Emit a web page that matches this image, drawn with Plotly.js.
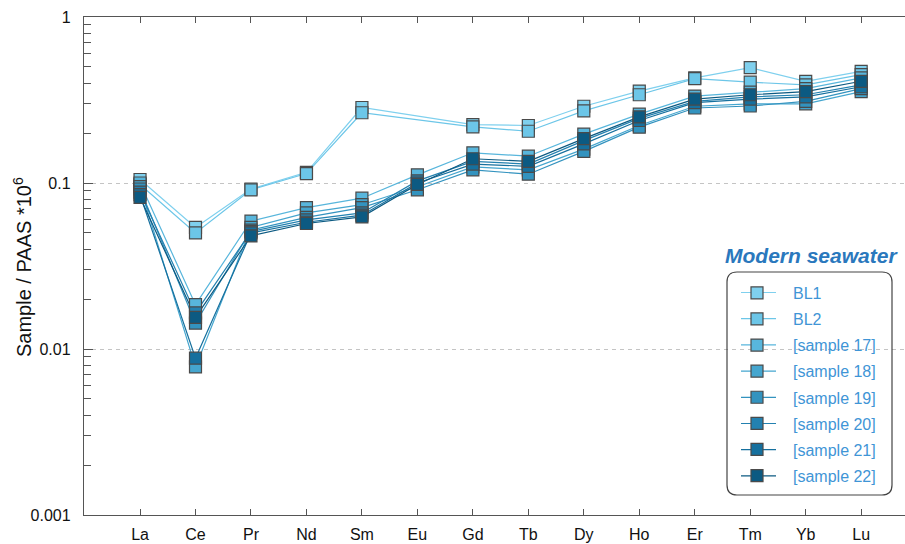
<!DOCTYPE html>
<html>
<head>
<meta charset="utf-8">
<script src="https://cdn.plot.ly/plotly-3.0.1.min.js"></script>
<style>html,body{margin:0;padding:0;background:#fff;}#chart{width:905px;height:544px;}</style>
</head>
<body>
<div id="chart"></div>
<script>
const elements = ["La","Ce","Pr","Nd","Sm","Eu","Gd","Tb","Dy","Ho","Er","Tm","Yb","Lu"];

const seriesNames = ["BL1","BL2","[sample 17]","[sample 18]","[sample 19]","[sample 20]","[sample 21]","[sample 22]"];

const bl1 = [0.105, 0.054, 0.092, 0.116, 0.285, null, 0.225, 0.222, 0.290, 0.358, 0.430, 0.495, 0.410, 0.470];
const bl2 = [0.098, 0.050, 0.091, 0.114, 0.265, null, 0.218, 0.205, 0.272, 0.340, 0.425, 0.405, 0.390, 0.450];
const s17 = [0.100, 0.0185, 0.059, 0.071, 0.081, 0.112, 0.152, 0.145, 0.197, 0.260, 0.334, 0.353, 0.370, 0.430];
const s18 = [0.095, 0.0078, 0.054, 0.066, 0.074, 0.095, 0.125, 0.120, 0.160, 0.222, 0.290, 0.300, 0.300, 0.355];
const s19 = [0.092, 0.0143, 0.052, 0.062, 0.071, 0.091, 0.120, 0.113, 0.155, 0.217, 0.283, 0.291, 0.310, 0.370];
const s20 = [0.088, 0.0165, 0.051, 0.060, 0.066, 0.103, 0.135, 0.130, 0.180, 0.245, 0.310, 0.330, 0.340, 0.390];
const s21 = [0.085, 0.0088, 0.050, 0.058, 0.064, 0.100, 0.130, 0.126, 0.172, 0.238, 0.305, 0.320, 0.330, 0.380];
const s22 = [0.082, 0.0155, 0.048, 0.057, 0.0625, 0.098, 0.140, 0.135, 0.185, 0.250, 0.320, 0.340, 0.355, 0.410];

const seriesValues = [bl1, bl2, s17, s18, s19, s20, s21, s22];
const seriesColors = ["#7fd0ee","#6cc6e8","#58b6dc","#45a6cf","#3393bf","#2381b0","#16709e","#0c5a82"];

const yTickVals = [0.001, 0.01, 0.1, 1];
const yTickText = ["0.001", "0.01", "0.1", "1"];

const traces = [];
seriesNames.forEach((name, i) => {
  traces.push({
    type: "scatter", mode: "lines", name: name, legendgroup: "g" + i, showlegend: false,
    x: elements, y: seriesValues[i], connectgaps: true,
    line: {color: seriesColors[i], width: 1.2}
  });
});
seriesNames.forEach((name, i) => {
  traces.push({
    type: "scatter", mode: "markers", name: name, legendgroup: "g" + i, showlegend: true,
    x: elements, y: seriesValues[i],
    marker: {symbol: "square", size: 12, color: seriesColors[i], line: {color: "#4a4a4a", width: 1.2}}
  });
});

// minor tick positions for the log axis (2..9 in each decade)
const minorVals = [];
[0.001, 0.01, 0.1].forEach(d => { for (let k = 2; k <= 9; k++) minorVals.push(+(k * d).toPrecision(3)); });

// layout helpers (pixel geometry of the plot area)
const plotL = 84, plotW = 821, plotB = 515, plotH = 498;
const px2x = p => (p - plotL) / plotW;
const px2y = p => (plotB - p) / plotH;

const x0 = px2x(727), x1 = px2x(892), y0 = px2y(495), y1 = px2y(272), rx = 10 / plotW, ry = 10 / plotH;
const boxPath = `M ${x0+rx},${y0} L ${x1-rx},${y0} Q ${x1},${y0} ${x1},${y0+ry} L ${x1},${y1-ry} Q ${x1},${y1} ${x1-rx},${y1} L ${x0+rx},${y1} Q ${x0},${y1} ${x0},${y1-ry} L ${x0},${y0+ry} Q ${x0},${y0} ${x0+rx},${y0} Z`;

const shapes = [{type: "path", xref: "paper", yref: "paper", path: boxPath, line: {color: "#444", width: 1.2}, fillcolor: "rgba(0,0,0,0)"}];
const rowTop = 292.5, rowStep = 26.2;
seriesColors.forEach((c, i) => {
  const yy = px2y(rowTop + rowStep * i);
  shapes.push({type: "line", xref: "paper", yref: "paper", x0: px2x(741), x1: px2x(776), y0: yy, y1: yy, line: {color: c, width: 1.2}});
});

const layout = {
  width: 905, height: 544,
  margin: {l: plotL, r: 0, t: 17, b: 29, pad: 0},
  paper_bgcolor: "#fff", plot_bgcolor: "#fff",
  font: {family: "Liberation Sans, Arial, sans-serif", size: 16, color: "#111"},
  showlegend: true,
  legend: {
    x: px2x(721), y: 0.48, xanchor: "left", yanchor: "top",
    bgcolor: "rgba(0,0,0,0)", borderwidth: 0,
    font: {size: 16, color: "#3f95d6"},
    tracegroupgap: 2.3, itemwidth: 62
  },
  xaxis: {
    type: "category",
    range: [-1.01, 13.79],
    showgrid: false, zeroline: false,
    showline: true, linecolor: "#555", linewidth: 1.2,
    mirror: "ticks",
    ticks: "inside", ticklen: 6, tickcolor: "#555", tickwidth: 1,
    ticklabelstandoff: 5,
    tickfont: {size: 16, color: "#111"}
  },
  yaxis: {
    type: "log",
    range: [-3, 0],
    tickvals: yTickVals, ticktext: yTickText,
    showgrid: true, gridcolor: "#c4c4c4", griddash: "4px,4px", gridwidth: 1,
    zeroline: false,
    showline: true, linecolor: "#555", linewidth: 1.2,
    ticks: "inside", ticklen: 9, tickcolor: "#555", tickwidth: 1,
    minor: {tickvals: minorVals, ticks: "inside", ticklen: 7, tickcolor: "#555", showgrid: false},
    ticklabelstandoff: 9,
    tickfont: {size: 16, color: "#111"}
  },
  shapes: shapes,
  annotations: [{
    xref: "paper", yref: "paper", x: 0.9935, y: 0.522, xanchor: "right", yanchor: "middle",
    text: "<b><i>Modern seawater</i></b>", showarrow: false,
    font: {size: 21, color: "#2a78bd"}
  }, {
    xref: "paper", yref: "paper", x: px2x(22), y: px2y(267), xanchor: "center", yanchor: "middle",
    text: "Sample / PAAS *10<sup>6</sup>", textangle: -90, showarrow: false,
    font: {size: 20, color: "#111"}
  }]
};

Plotly.newPlot("chart", traces, layout, {displayModeBar: false, staticPlot: true});
</script>
</body>
</html>
